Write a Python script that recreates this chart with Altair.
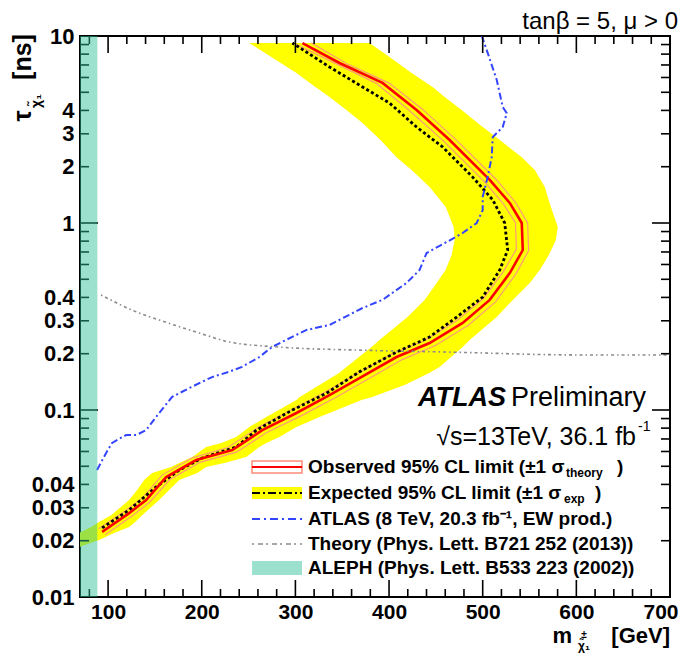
import altair as alt
import pandas as pd

# ---------------- data ----------------
# expected +-1 sigma band: for each lifetime, inner and outer mass edge
band_tau = [0.0185, 0.0202, 0.022, 0.0237, 0.0252, 0.0274, 0.033, 0.0373, 0.0422, 0.046, 0.0496, 0.0521,
            0.0561, 0.0634, 0.0666, 0.0717, 0.0811, 0.0918, 0.113, 0.117, 0.136, 0.158, 0.170, 0.217,
            0.237, 0.314, 0.388, 0.478, 0.561, 0.674, 0.811, 0.952, 1.22, 1.56, 1.92, 2.25, 2.78, 3.43,
            4.02, 4.72, 5.34, 6.34, 7.72, 9.17]
band_lo = [50, 50, 69, 81.8, 90.4, 103.2, 122.5, 131, 138.5, 147.1, 167.4, 175.9, 189.8, 204.8, 220.9,
           236.9, 250.8, 269, 301.1, 304.3, 325.7, 347.1, 354.5, 381.3, 389.8, 419.8, 438, 450.8, 460.4,
           466.8, 470, 469, 460.4, 443.3, 424.1, 408, 390.9, 371.7, 354.5, 336.4, 321.4, 301.1, 274.3, 250.8]
band_hi = [69, 90.4, 106.4, 122.5, 128.9, 136.4, 154.5, 165.2, 175.9, 195.2, 204.8, 224.1, 247.6, 261.5,
           269, 282.9, 301.1, 325.7, 370.6, 381.3, 416.6, 443.3, 454, 478.6, 486.1, 515, 532.1, 550.3,
           560.9, 570.6, 578.1, 580.2, 572.7, 566.3, 555.6, 541.7, 518.2, 494.6, 477.5, 459.4, 446.5,
           424.1, 400.5, 379.1]

obs_m = [93.6, 122.5, 140.6, 162, 194.1, 232.6, 264.7, 301.1, 336.4, 368.4, 408, 443.3, 478.6, 507.5,
         528.9, 542.8, 541.7, 528.9, 507.5, 464.7, 429.4, 393, 347.1, 307.5]
obs_tau = [0.0223, 0.0281, 0.033, 0.0438, 0.054, 0.0611, 0.078, 0.0964, 0.120, 0.148, 0.192, 0.228,
           0.292, 0.388, 0.540, 0.717, 1.0, 1.28, 1.70, 2.78, 4.02, 5.61, 7.17, 9.17]

obs_up_m = [97, 126, 144, 166, 198, 237, 269, 306, 342, 374, 414, 450, 485, 514, 535, 549, 548, 535, 514,
            471, 436, 400, 355, 317]
obs_up_tau = [0.0215, 0.0272, 0.032, 0.0425, 0.0525, 0.0595, 0.0755, 0.093, 0.116, 0.143, 0.186, 0.222,
              0.285, 0.38, 0.53, 0.71, 1.0, 1.29, 1.72, 2.8, 4.05, 5.6, 7.1, 9.17]
obs_dn_m = [90, 119, 137, 158, 190, 228, 260, 296, 331, 363, 402, 437, 472, 501, 522, 536, 535, 522, 501,
            458, 422, 386, 340, 298]
obs_dn_tau = [0.0232, 0.029, 0.034, 0.045, 0.0555, 0.063, 0.0805, 0.1, 0.124, 0.153, 0.198, 0.234, 0.3,
              0.396, 0.55, 0.725, 1.0, 1.27, 1.68, 2.75, 3.98, 5.6, 7.25, 9.17]

exp_m = [93.6, 122.5, 151.3, 175.9, 200.5, 236.9, 258.3, 296.8, 333.2, 368.4, 408, 443.3, 472.2, 500,
         518.2, 526.7, 523.5, 510.7, 489.3, 457.2, 429.4, 400.5, 371.7, 336.4, 296.8]
exp_tau = [0.0234, 0.0292, 0.0388, 0.0477, 0.0554, 0.0634, 0.078, 0.1, 0.123, 0.160, 0.204, 0.2456,
           0.314, 0.402, 0.561, 0.717, 1.0, 1.33, 1.76, 2.55, 3.26, 4.38, 5.34, 6.83, 9.17]

atlas8_m = [88.2, 97.9, 104.3, 119.3, 130, 140.6, 154.5, 168.4, 186.6, 211, 229, 243, 261.5, 275, 290,
            312, 336.4, 371.7, 393, 418.7, 432.6, 440.1, 461.5, 478.6, 493.6, 500, 500, 505.3, 509.6,
            510.7, 521.4, 525.7, 521.4, 515, 504.3, 499]
atlas8_tau = [0.0478, 0.0589, 0.0667, 0.0735, 0.0735, 0.078, 0.0964, 0.1175, 0.131, 0.150, 0.160, 0.170,
              0.192, 0.217, 0.237, 0.268, 0.285, 0.351, 0.388, 0.478, 0.561, 0.691, 0.791, 0.884, 1.0,
              1.17, 1.38, 1.76, 2.25, 2.88, 3.26, 3.87, 4.17, 5.82, 8.41, 10]

theory_m = [92.5, 133.2, 154.5, 197.3, 229.4, 282.9, 368.4, 464.7, 603.7, 700]
theory_tau = [0.412, 0.330, 0.303, 0.258, 0.231, 0.217, 0.209, 0.204, 0.197, 0.197]

aleph_lo = [70]
aleph_hi = [88.5]

x_major = [100, 200, 300, 400, 500, 600, 700]
x_minor = [80, 120, 140, 160, 180, 220, 240, 260, 280, 320, 340, 360, 380, 420, 440, 460, 480,
           520, 540, 560, 580, 620, 640, 660, 680]
y_major = [0.01, 0.1, 1, 10]
y_minor = [0.02, 0.03, 0.04, 0.05, 0.06, 0.07, 0.08, 0.09, 0.2, 0.3, 0.4, 0.5, 0.6, 0.7, 0.8, 0.9,
           2, 3, 4, 5, 6, 7, 8, 9]
y_labels = [0.01, 0.02, 0.03, 0.04, 0.1, 0.2, 0.3, 0.4, 1, 2, 3, 4, 10]

# ---------------- chart ----------------
W, H = 590, 561
FONT = "Liberation Sans"

xsc = alt.Scale(domain=[70, 700], nice=False, zero=False)
ysc = alt.Scale(type="log", domain=[0.01, 10], nice=False)
xax = alt.Axis(values=x_major, ticks=False, domain=False, grid=False, title=None,
               labelFont=FONT, labelFontSize=21, labelFontWeight="bold", labelColor="black",
               labelPadding=4, labelFlush=True, labelFlushOffset=8, labelOverlap=False)
yax = alt.Axis(values=y_labels, format="~g", ticks=False, domain=False, grid=False, title=None,
               labelFont=FONT, labelFontSize=22, labelFontWeight="bold", labelColor="black",
               labelPadding=6, labelFlush=False, labelOverlap=False)


def X(f):
    return alt.X(f, type="quantitative", scale=xsc, axis=xax)


def Y(f):
    return alt.Y(f, type="quantitative", scale=ysc, axis=yax)


def path_df(m, t):
    return pd.DataFrame({"m": m, "tau": t, "i": list(range(len(m)))})


band = alt.Chart(pd.DataFrame({"tau": band_tau, "lo": band_lo, "hi": band_hi})).mark_area(
    color="#FFFF00", orient="horizontal", clip=True
).encode(y=Y("tau"), x=X("lo"), x2="hi")


def curve(m, t, **kw):
    return alt.Chart(path_df(m, t)).mark_line(clip=True, **kw).encode(
        x=X("m"), y=Y("tau"), order="i:Q")


obs_up = curve(obs_up_m, obs_up_tau, color="#FF9A7A", strokeWidth=1.2)
obs_dn = curve(obs_dn_m, obs_dn_tau, color="#FF9A7A", strokeWidth=1.2)
obs = curve(obs_m, obs_tau, color="#FF0000", strokeWidth=2.6)
exp_ = curve(exp_m, exp_tau, color="black", strokeWidth=2.8, strokeDash=[3, 2.5])
atlas8 = curve(atlas8_m, atlas8_tau, color="#3344FF", strokeWidth=2, strokeDash=[7, 3, 2, 3])
theory = curve(theory_m, theory_tau, color="#8A8A8A", strokeWidth=1.6, strokeDash=[1.5, 3, 3, 3],
               interpolate="monotone")

aleph = alt.Chart(pd.DataFrame({"lo": aleph_lo, "hi": aleph_hi})).mark_rect(
    color="#2BBF95", opacity=0.47
).encode(x=X("lo"), x2="hi", y=alt.value(0), y2=alt.value(H))


def xticks(vals, length):
    d = pd.DataFrame({"v": vals})
    b = alt.Chart(d).mark_rule(color="black", strokeWidth=1.6).encode(
        x=X("v"), y=alt.value(H), y2=alt.value(H - length))
    t = alt.Chart(d).mark_rule(color="black", strokeWidth=1.6).encode(
        x=X("v"), y=alt.value(0), y2=alt.value(length))
    return [b, t]


def yticks(vals, length):
    d = pd.DataFrame({"v": vals})
    l = alt.Chart(d).mark_rule(color="black", strokeWidth=1.6).encode(
        y=Y("v"), x=alt.value(0), x2=alt.value(length))
    r = alt.Chart(d).mark_rule(color="black", strokeWidth=1.6).encode(
        y=Y("v"), x=alt.value(W), x2=alt.value(W - length))
    return [l, r]


ticks = xticks(x_minor, 8) + xticks(x_major, 17) + yticks(y_minor, 9) + yticks(y_major, 18)

one = pd.DataFrame({"a": [0]})


def txt(s, x, y, size, weight="normal", align="left", style="normal", angle=0, color="black"):
    kw = dict(text=s, font=FONT, fontSize=size, fontWeight=weight, align=align, baseline="middle",
              color=color, fontStyle=style)
    if angle:
        kw["angle"] = angle
    return alt.Chart(one).mark_text(**kw).encode(x=alt.value(x), y=alt.value(y))


def vrect(x1, x2, y1, y2, **kw):
    return alt.Chart(one).mark_rect(**kw).encode(
        x=alt.value(x1), x2=alt.value(x2), y=alt.value(y1), y2=alt.value(y2))


def vrule(x1, x2, y, **kw):
    return alt.Chart(one).mark_rule(**kw).encode(
        x=alt.value(x1), x2=alt.value(x2), y=alt.value(y))


texts = [
    # top label
    txt("tanβ = 5, μ > 0", 598, -14, 24, align="right"),
    # ATLAS label
    txt("ATLAS", 338, 362, 27, weight="bold", style="italic"),
    txt("Preliminary", 566, 362, 27, align="right"),
    txt("√s=13TeV, 36.1 fb", 556, 401, 25, align="right"),
    txt("-1", 558, 391, 14, align="left"),
    # x title
    txt("m", 492, 600, 22, weight="bold", align="right"),
    txt("±", 504, 599, 10, weight="bold", align="center"),
    txt("χ̃₁", 504, 610, 12, weight="bold", align="center"),
    txt("[GeV]", 590, 600, 22, weight="bold", align="right"),
    # y title
    txt("τ", -57, 80, 25, weight="bold", align="center", angle=270),
    txt("χ̃₁", -43, 65, 14, weight="bold", align="center", angle=270),
    txt("[ns]", -57, 21, 25, weight="bold", align="center", angle=270),
]

# legend
LX1, LX2, TX = 172, 222, 228
rows = [431, 457, 483, 508, 532]
legend = [
    vrect(LX1, LX2, rows[0] - 6, rows[0] + 6, fill=None, fillOpacity=0, stroke="#FF8C78", strokeWidth=1.5),
    vrule(LX1, LX2, rows[0], color="#FF0000", strokeWidth=2),
    vrect(LX1, LX2, rows[1] - 6, rows[1] + 6, color="#FFFF00"),
    vrule(LX1, LX2, rows[1], color="black", strokeWidth=2.2, strokeDash=[8, 3, 2, 3]),
    vrule(LX1, LX2, rows[2], color="#3344FF", strokeWidth=2, strokeDash=[8, 4, 2, 4]),
    vrule(LX1, LX2, rows[3], color="#8A8A8A", strokeWidth=1.6, strokeDash=[2, 4, 5, 3]),
    vrect(LX1, LX2, rows[4] - 7, rows[4] + 7, color="#2BBF95", opacity=0.47),
    txt("Observed 95% CL limit (±1 σ", TX, rows[0], 19, weight="bold"),
    txt("theory", 486, rows[0] + 6, 12, weight="bold"),
    txt(")", 537, rows[0], 19, weight="bold"),
    txt("Expected 95% CL limit (±1 σ", TX, rows[1], 19, weight="bold"),
    txt("exp", 484, rows[1] + 6, 12, weight="bold"),
    txt(")", 515, rows[1], 19, weight="bold"),
    txt("ATLAS (8 TeV, 20.3 fb⁻¹, EW prod.)", TX, rows[2], 19, weight="bold"),
    txt("Theory (Phys. Lett. B721 252 (2013))", TX, rows[3], 19, weight="bold"),
    txt("ALEPH (Phys. Lett. B533 223 (2002))", TX, rows[4], 19, weight="bold"),
]

layers = [band, obs_dn, obs_up, exp_, obs, atlas8, theory] + ticks + [aleph] + texts + legend

chart = alt.layer(*layers).properties(
    width=W, height=H,
    autosize=alt.AutoSizeParams(type="none"),
    padding={"left": 72, "top": 28, "right": 9, "bottom": 56},
    background="white",
).configure_view(stroke="black", strokeWidth=2)

chart.save("out.html", embed_options={"renderer": "svg", "actions": False})
